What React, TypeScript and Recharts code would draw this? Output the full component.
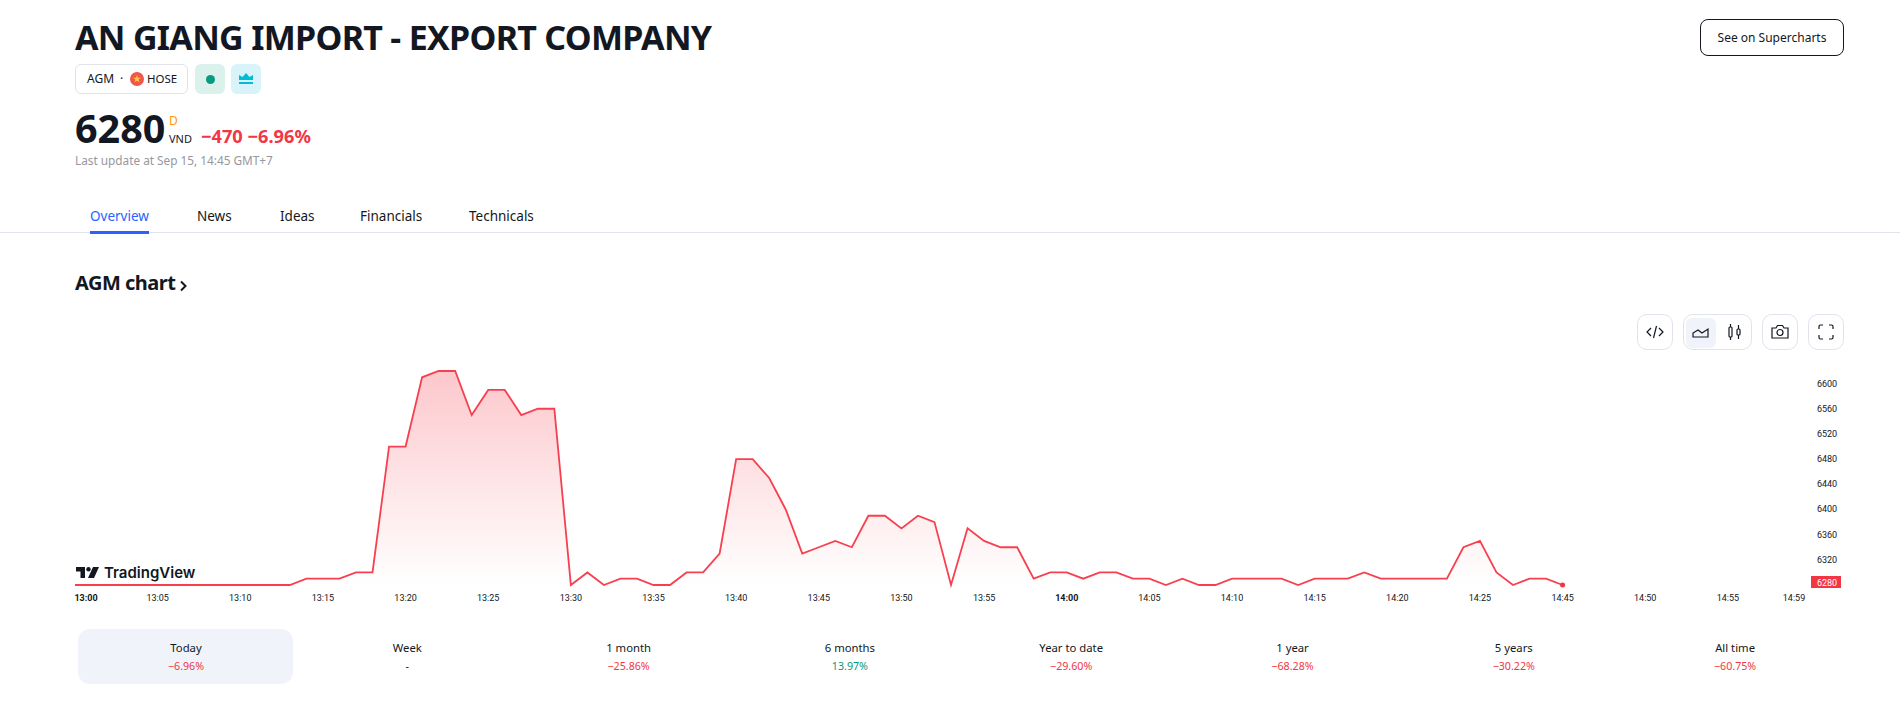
import React from "react";
import { Area, AreaChart, ReferenceDot, XAxis, YAxis } from "recharts";

// one entry per traded minute, 13:00 -> 14:29, then the 14:45 close
const times = [
  "13:00", "13:01", "13:02", "13:03", "13:04", "13:05", "13:06", "13:07", "13:08", "13:09",
  "13:10", "13:11", "13:12", "13:13", "13:14", "13:15", "13:16", "13:17", "13:18", "13:19",
  "13:20", "13:21", "13:22", "13:23", "13:24", "13:25", "13:26", "13:27", "13:28", "13:29",
  "13:30", "13:31", "13:32", "13:33", "13:34", "13:35", "13:36", "13:37", "13:38", "13:39",
  "13:40", "13:41", "13:42", "13:43", "13:44", "13:45", "13:46", "13:47", "13:48", "13:49",
  "13:50", "13:51", "13:52", "13:53", "13:54", "13:55", "13:56", "13:57", "13:58", "13:59",
  "14:00", "14:01", "14:02", "14:03", "14:04", "14:05", "14:06", "14:07", "14:08", "14:09",
  "14:10", "14:11", "14:12", "14:13", "14:14", "14:15", "14:16", "14:17", "14:18", "14:19",
  "14:20", "14:21", "14:22", "14:23", "14:24", "14:25", "14:26", "14:27", "14:28", "14:29",
  "14:45",
];
const prices = [
  6280, 6280, 6280, 6280, 6280, 6280, 6280, 6280, 6280, 6280,
  6280, 6280, 6280, 6280, 6290, 6290, 6290, 6300, 6300, 6500,
  6500, 6610, 6620, 6620, 6550, 6590, 6590, 6550, 6560, 6560,
  6280, 6300, 6280, 6290, 6290, 6280, 6280, 6300, 6300, 6330,
  6480, 6480, 6450, 6400, 6330, 6340, 6350, 6340, 6390, 6390,
  6370, 6390, 6380, 6280, 6370, 6350, 6340, 6340, 6290, 6300,
  6300, 6290, 6300, 6300, 6290, 6290, 6280, 6290, 6280, 6280,
  6290, 6290, 6290, 6290, 6280, 6290, 6290, 6290, 6300, 6290,
  6290, 6290, 6290, 6290, 6340, 6350, 6300, 6280, 6290, 6290,
  6280,
];
const tickSlots = [0, 5, 10, 15, 20, 25, 30, 35, 40, 45, 50, 55, 60, 65, 70, 75, 80, 85, 90, 95, 100, 104];
const tickLabels = [
  "13:00", "13:05", "13:10", "13:15", "13:20", "13:25", "13:30", "13:35", "13:40", "13:45", "13:50",
  "13:55", "14:00", "14:05", "14:10", "14:15", "14:20", "14:25", "14:45", "14:50", "14:55", "14:59",
];
const priceTicks = [6280, 6320, 6360, 6400, 6440, 6480, 6520, 6560, 6600];
const tabs = ["Overview", "News", "Ideas", "Financials", "Technicals"];
const tabLeft = [90, 197, 280, 360, 469];
const periods = ["Today", "Week", "1 month", "6 months", "Year to date", "1 year", "5 years", "All time"];
const changes = ["−6.96%", "-", "−25.86%", "13.97%", "−29.60%", "−68.28%", "−30.22%", "−60.75%"];

const chartData = prices.map((price, i) => ({ slot: i, time: times[i], price }));

const UI_FONT = "'Noto Sans', sans-serif";
const AXIS_FONT = "Roboto, sans-serif";
const RED = "#f23645";
const INK = "#131722";
const BORDER = "#e0e3eb";

const TimeTick = ({ x, y, payload }: any) => {
  const label = tickLabels[tickSlots.indexOf(payload.value)];
  const first = payload.value === 0;
  return (
    <text
      x={first ? x + 11 : x}
      y={y + 8}
      textAnchor="middle"
      fontSize={9}
      fontFamily={AXIS_FONT}
      fontWeight={label.endsWith(":00") ? 700 : 400}
      fill={INK}
    >
      {label}
    </text>
  );
};

const PriceTick = ({ x, y, payload }: any) => {
  const last = payload.value === 6280;
  return (
    <g>
      {last && <rect x={1811} y={576} width={30} height={12} fill={RED} />}
      <text
        x={1827}
        y={last ? 585.5 : y + 3}
        textAnchor="middle"
        fontSize={9}
        fontFamily={AXIS_FONT}
        fill={last ? "#ffffff" : INK}
      >
        {payload.value}
      </text>
    </g>
  );
};

const Abs = ({ x, y, w, h, style, children }: any) => (
  <div style={{ position: "absolute", left: x, top: y, width: w, height: h, ...style }}>{children}</div>
);

const Label = ({ x, cy, size, color = INK, weight = 400, center, children, spacing }: any) => (
  <div
    style={{
      position: "absolute",
      left: x,
      top: cy - size * 0.6,
      height: size * 1.2,
      lineHeight: `${size * 1.2}px`,
      fontSize: size,
      fontWeight: weight,
      color,
      letterSpacing: spacing,
      whiteSpace: "nowrap",
      transform: center ? "translateX(-50%)" : undefined,
    }}
  >
    {children}
  </div>
);

const iconBox = { border: `1px solid ${BORDER}`, borderRadius: 10, boxSizing: "border-box" as const };

const Icon = ({ x, y, children }: any) => (
  <svg
    style={{ position: "absolute", left: x, top: y }}
    width={20}
    height={20}
    viewBox="0 0 20 20"
    fill="none"
    stroke={INK}
    strokeWidth={1.2}
  >
    {children}
  </svg>
);

export default function App() {
  return (
    <div
      style={{
        position: "absolute",
        left: 0,
        top: 0,
        width: 1900,
        height: 724,
        overflow: "hidden",
        background: "#fff",
        fontFamily: UI_FONT,
      }}
    >
      <Label x={75} cy={37} size={34} weight={700} spacing={-0.7}>
        AN GIANG IMPORT - EXPORT COMPANY
      </Label>

      <Abs x={75} y={64} w={113} h={30} style={{ border: `1px solid ${BORDER}`, borderRadius: 6, boxSizing: "border-box" }} />
      <Label x={87} cy={79} size={12}>AGM</Label>
      <Label x={120} cy={79} size={12}>·</Label>
      <svg style={{ position: "absolute", left: 130, top: 72 }} width={14} height={14} viewBox="0 0 14 14">
        <circle cx={7} cy={7} r={7} fill="#f0564a" />
        <path d="M7 3l1 2.8h3L8.600 7.600l.9 2.900L7 8.800l-2.500 1.700.9-2.900L3 5.800h3z" fill="#ffc53d" />
      </svg>
      <Label x={147} cy={79} size={11.5}>HOSE</Label>
      <Abs x={195} y={64} w={30} h={30} style={{ background: "#daf1ec", borderRadius: 6 }} />
      <svg style={{ position: "absolute", left: 204, top: 73 }} width={13} height={13}>
        <circle cx={6.500} cy={6.500} r={4.500} fill="#089981" />
      </svg>
      <Abs x={231} y={64} w={30} h={30} style={{ background: "#d8f4fa", borderRadius: 6 }} />
      <svg style={{ position: "absolute", left: 239, top: 73 }} width={14} height={12} viewBox="0 0 14 12">
        <path d="M0 7V2l3.500 2L7 0l3.500 4L14 2v5z" fill="#00bcd4" />
        <rect x={0} y={9} width={14} height={2} fill="#00bcd4" />
      </svg>

      <Label x={75} cy={129} size={39.5} weight={700}>6280</Label>
      <Label x={169} cy={121} size={12} color="#ff9800">D</Label>
      <Label x={169} cy={139} size={11}>VND</Label>
      <Label x={201} cy={137} size={18.2} weight={700} color={RED}>−470 −6.96%</Label>
      <Label x={75} cy={160} size={11.8} color="#9598a1">Last update at Sep 15, 14:45 GMT+7</Label>

      <Abs
        x={1700}
        y={19}
        w={144}
        h={37}
        style={{
          border: `1px solid ${INK}`,
          borderRadius: 8,
          boxSizing: "border-box",
          textAlign: "center",
          lineHeight: "35px",
          fontSize: 12,
          color: INK,
        }}
      >
        See on Supercharts
      </Abs>

      {tabs.map((tab, i) => (
        <Label key={tab} x={tabLeft[i]} cy={216} size={13.5} color={i === 0 ? "#2962ff" : INK}>
          {tab}
        </Label>
      ))}
      <Abs x={0} y={232} w={1900} h={1} style={{ background: BORDER }} />
      <Abs x={90} y={231} w={59} h={3} style={{ background: "#2962ff" }} />

      <Label x={75} cy={283} size={20} weight={700} spacing={-0.5}>AGM chart</Label>
      <svg style={{ position: "absolute", left: 179, top: 280 }} width={9} height={12} fill="none" stroke={INK} strokeWidth={2}>
        <path d="M2 1.500L6.500 6 2 10.500" />
      </svg>

      <Abs x={1637} y={314} w={36} h={36} style={iconBox} />
      <Icon x={1645} y={322}>
        <path d="M6 6l-4 4 4 4M14 6l4 4-4 4M11.500 4l-3 12" />
      </Icon>
      <Abs x={1683} y={314} w={69} h={36} style={iconBox} />
      <Abs x={1686} y={318} w={30} h={30} style={{ background: "#f0f3fa", borderRadius: 6 }} />
      <Icon x={1691} y={322}>
        <path d="M2 15V11l5-3 4 3 6-4v8z" />
      </Icon>
      <Icon x={1725} y={322}>
        <rect x={4} y={5} width={3} height={10} rx={1} />
        <rect x={12} y={7} width={3} height={6} rx={1} />
        <path d="M5.500 2v3M5.500 15v3M13.500 3v4M13.500 13v4" />
      </Icon>
      <Abs x={1762} y={314} w={36} h={36} style={iconBox} />
      <Icon x={1770} y={322}>
        <path d="M2 6h4l1.500-2.500h5L14 6h4v10H2z" />
        <circle cx={10} cy={10.500} r={3} />
      </Icon>
      <Abs x={1808} y={314} w={36} h={36} style={iconBox} />
      <Icon x={1816} y={322}>
        <path d="M3 7V4.500A1.500 1.500 0 0 1 4.500 3H7M13 3h2.500A1.500 1.500 0 0 1 17 4.500V7M17 13v2.500a1.500 1.500 0 0 1-1.500 1.500H13M7 17H4.500A1.500 1.500 0 0 1 3 15.500V13" />
      </Icon>

      <div style={{ position: "absolute", left: 0, top: 0 }}>
        <AreaChart
          width={1900}
          height={640}
          data={chartData}
          margin={{ top: 371, right: 46, bottom: 25, left: 75 }}
        >
          <defs>
            <linearGradient id="priceFill" x1="0" y1="0" x2="0" y2="1">
              <stop offset="0%" stopColor="#f7525f" stopOpacity={0.32} />
              <stop offset="100%" stopColor="#f7525f" stopOpacity={0} />
            </linearGradient>
          </defs>
          <XAxis
            dataKey="slot"
            type="number"
            domain={[0, 104]}
            ticks={tickSlots}
            interval={0}
            height={30}
            axisLine={false}
            tickLine={false}
            tick={<TimeTick />}
          />
          <YAxis
            orientation="right"
            width={60}
            domain={[6280, 6620]}
            ticks={priceTicks}
            interval={0}
            axisLine={false}
            tickLine={false}
            tick={<PriceTick />}
          />
          <Area
            type="linear"
            dataKey="price"
            stroke="#f7404f"
            strokeWidth={1.8}
            fill="url(#priceFill)"
            fillOpacity={1}
            dot={false}
            activeDot={false}
            isAnimationActive={false}
          />
          <ReferenceDot x={90} y={6280} r={2.500} fill={RED} stroke="none" />
        </AreaChart>
      </div>

      <svg style={{ position: "absolute", left: 76, top: 567 }} width={23} height={11} viewBox="0 0 23 11" fill={INK}>
        <path d="M0 0h9v11H4.500V4.500H0z" />
        <circle cx={12.500} cy={2.200} r={2.200} />
        <path d="M17 0h6l-5 11h-6z" />
      </svg>
      <Label x={104} cy={572} size={15} weight={600}>
        <span style={{ fontFamily: "Inter, sans-serif" }}>TradingView</span>
      </Label>

      <Abs x={78} y={629} w={215} h={55} style={{ background: "#f0f3fa", borderRadius: 12 }} />
      {periods.map((period, i) => (
        <React.Fragment key={period}>
          <Label x={186 + i * 221.3} cy={648} size={11.3} center>
            {period}
          </Label>
          <Label
            x={186 + i * 221.3}
            cy={666}
            size={10.7}
            center
            color={changes[i] === "-" ? INK : changes[i].startsWith("−") ? RED : "#089981"}
          >
            {changes[i]}
          </Label>
        </React.Fragment>
      ))}
    </div>
  );
}
